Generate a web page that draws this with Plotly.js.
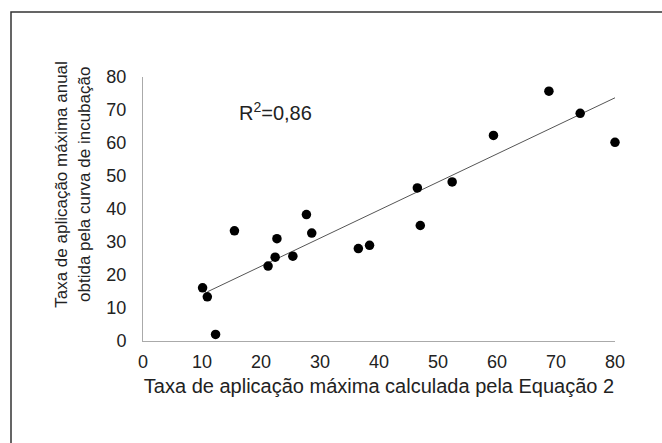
<!DOCTYPE html>
<html>
<head>
<meta charset="utf-8">
<script src="https://cdn.plot.ly/plotly-3.0.1.min.js"></script>
<style>
html,body{margin:0;padding:0;background:#fff;}
#chart{width:662px;height:443px;}
</style>
</head>
<body>
<div id="chart"></div>
<script>
// Data
const calcRate = [10.1, 10.9, 12.3, 15.5, 21.2, 22.4, 22.7, 25.4, 27.7, 28.6, 36.5, 38.4, 46.5, 47.0, 52.4, 59.4, 68.8, 74.1, 80.0];
const obsRate  = [16.1, 13.4, 2.0, 33.4, 22.7, 25.4, 31.0, 25.7, 38.3, 32.7, 28.0, 29.0, 46.4, 35.0, 48.2, 62.3, 75.7, 69.0, 60.2];
const trendX = [10.9, 80];
const trendY = [14.9, 73.7];
const tickVals = [0, 10, 20, 30, 40, 50, 60, 70, 80];
const r2Label = 'R<sup>2</sup>=0,86';
const xTitle = 'Taxa de aplicação máxima calculada pela Equação 2';
const yTitle1 = 'Taxa de aplicação máxima anual';
const yTitle2 = 'obtida pela curva de incubação';

const FONT = 'Liberation Sans, Arial, Helvetica, sans-serif';
const TXT = '#222';

const traces = [
  {
    x: trendX, y: trendY, type: 'scatter', mode: 'lines',
    line: {color: '#555', width: 1}, hoverinfo: 'skip', showlegend: false
  },
  {
    x: calcRate, y: obsRate, type: 'scatter', mode: 'markers',
    marker: {color: '#000', size: 9.5}, cliponaxis: false, showlegend: false
  }
];

const layout = {
  width: 662, height: 443,
  margin: {l: 143, r: 47, t: 77, b: 102},
  paper_bgcolor: '#fff', plot_bgcolor: '#fff',
  font: {family: FONT, color: TXT, size: 17},
  showlegend: false,
  xaxis: {
    range: [0, 80], tickvals: tickVals, ticktext: tickVals.map(String),
    showgrid: false, zeroline: false, showline: true, linecolor: '#aaa', linewidth: 1,
    ticks: '', ticklabelstandoff: 4,
    tickfont: {family: FONT, size: 18, color: TXT},
    title: {text: xTitle, font: {family: FONT, size: 20, color: TXT}, standoff: 8}
  },
  yaxis: {
    range: [0, 80], tickvals: tickVals, ticktext: tickVals.map(String),
    showgrid: false, zeroline: false, showline: true, linecolor: '#aaa', linewidth: 1,
    ticks: '', ticklabelstandoff: 12,
    tickfont: {family: FONT, size: 18, color: TXT}
  },
  annotations: [
    {text: r2Label, xref: 'x', yref: 'y', x: 16, y: 69.5, xanchor: 'left', yanchor: 'middle',
     showarrow: false, font: {family: FONT, size: 20, color: TXT}},
    {text: yTitle1, xref: 'paper', yref: 'paper', x: -0.173, y: 0.593, textangle: -90,
     xanchor: 'center', yanchor: 'middle', showarrow: false, font: {family: FONT, size: 17, color: TXT}},
    {text: yTitle2, xref: 'paper', yref: 'paper', x: -0.124, y: 0.593, textangle: -90,
     xanchor: 'center', yanchor: 'middle', showarrow: false, font: {family: FONT, size: 17, color: TXT}}
  ],
  shapes: [
    {type: 'rect', xref: 'paper', yref: 'paper', layer: 'above',
     x0: (11 - 143) / 472, x1: (700 - 143) / 472,
     y0: (341 - 500) / 264, y1: (341 - 12) / 264,
     line: {color: '#333', width: 1.5}, fillcolor: 'rgba(0,0,0,0)'}
  ]
};

Plotly.newPlot('chart', traces, layout, {displayModeBar: false, staticPlot: true});
</script>
</body>
</html>
